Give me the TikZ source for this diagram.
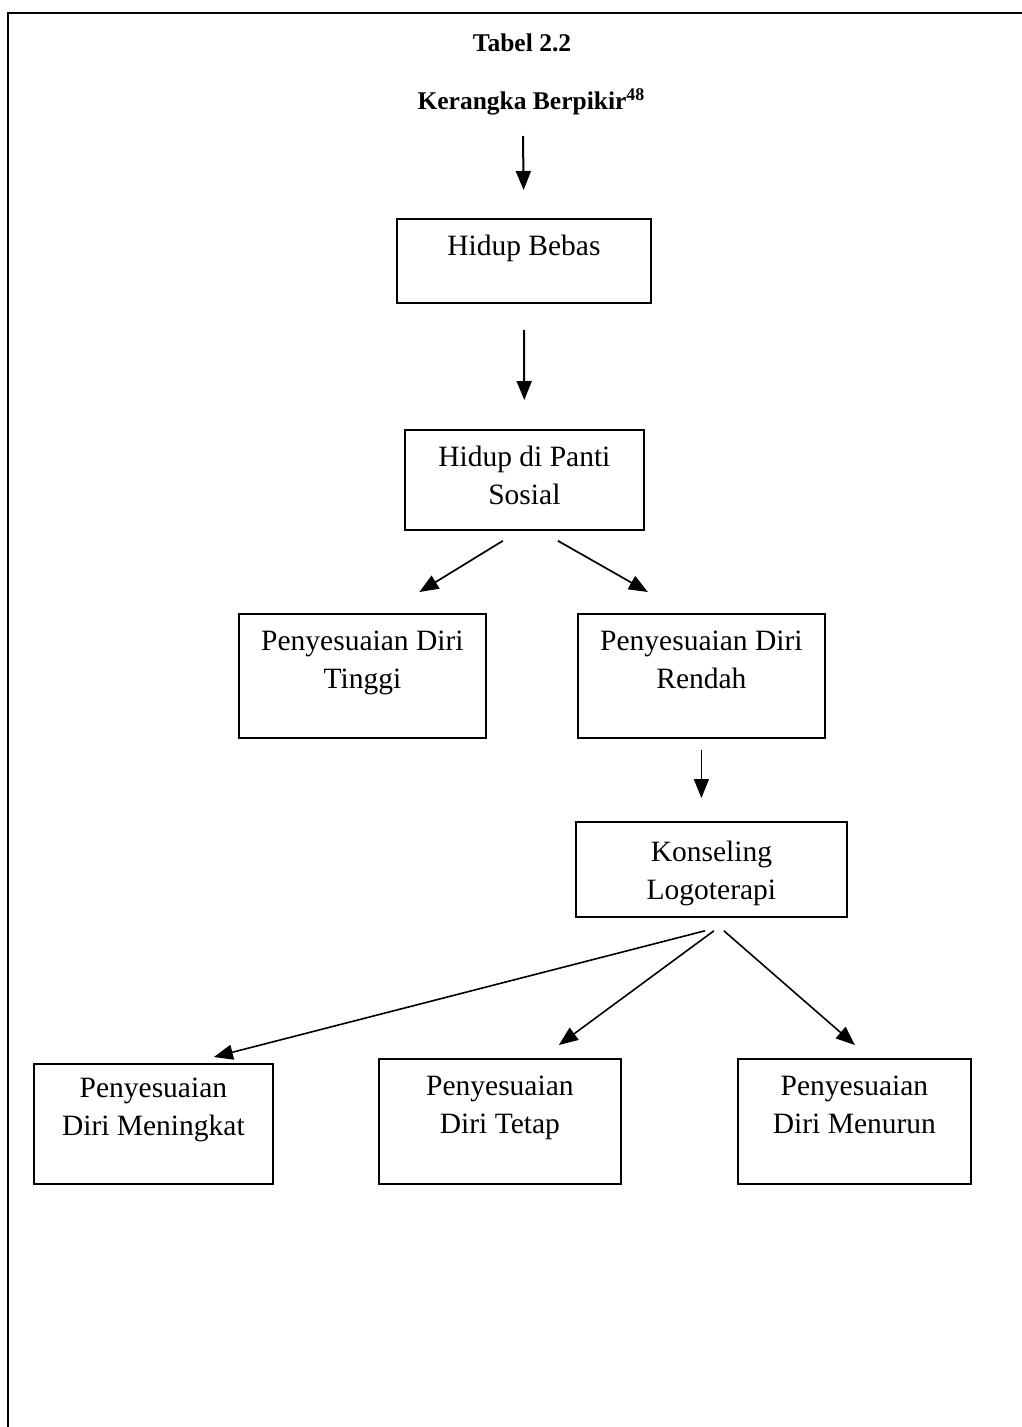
\documentclass[tikz,border=0pt]{standalone}
\usepackage{fontspec}
\setmainfont{Liberation Serif}
\usetikzlibrary{arrows.meta,calc}
\newcommand{\bcontent}[4]{\parbox[c][#2pt][t]{#1pt}{\centering\rule{0pt}{#3pt}#4}}
\begin{document}
\begin{tikzpicture}[x=1pt,y=-1pt,
  box/.style={draw, line width=1.8pt, inner sep=0pt, anchor=north west,
    font=\fontsize{29.5}{37.5}\selectfont},
  ttl/.style={font=\bfseries\fontsize{25.5}{28}\selectfont, inner sep=0pt},
  arr/.style={line width=1.7pt, -{Triangle[length=19pt,width=15pt]}},
]
\useasboundingbox (0,0) rectangle (1022,1427);
\draw[line width=2pt] (1022,12.5) -- (8,12.5) -- (8,1427);

\node[ttl] (tabel) at (522,43) {Tabel 2.2};
\node[ttl] (kerangka) at (522,102) {Kerangka Berpikir\rlap{\textsuperscript{48}}};

\node[box] (bebas) at (396,218) {\bcontent{254}{84}{37}{Hidup Bebas}};
\node[box] (panti) at (404,429) {\bcontent{239}{100}{37}{Hidup di Panti\\Sosial}};
\node[box] (tinggi) at (238,613) {\bcontent{247}{124}{37}{Penyesuaian Diri\\Tinggi}};
\node[box] (rendah) at (577,613) {\bcontent{247}{124}{37}{Penyesuaian Diri\\Rendah}};
\node[box] (konseling) at (575,821) {\bcontent{271}{95}{40}{Konseling\\Logoterapi}};
\node[box] (meningkat) at (33,1063) {\bcontent{239}{120}{34}{Penyesuaian\\Diri Meningkat}};
\node[box] (tetap) at (378,1058) {\bcontent{242}{125}{37}{Penyesuaian\\Diri Tetap}};
\node[box] (menurun) at (737,1058) {\bcontent{233}{125}{37}{Penyesuaian\\Diri Menurun}};

\draw[arr, line width=2pt, shorten >=28pt] ($(kerangka.center)+(1,34)$) -- (bebas.north);
\draw[arr, line width=2pt, shorten <=26pt, shorten >=29pt] (bebas.south) -- (panti.north);
\draw[arr] ($(panti.south)+(-21.5,10)$) -- ($(tinggi.north)+(57,-21)$);
\draw[arr] ($(panti.south)+(33.5,10)$) -- ($(rendah.north)+(-53.5,-21)$);
\draw[arr, shorten <=11pt, shorten >=23pt] (rendah.south) -- (rendah.south |- konseling.north);
\draw[arr, line width=1.6pt] ($(konseling.south)+(-6.5,13)$) -- ($(meningkat.north)+(60.5,-6)$);
\draw[arr, line width=1.6pt] ($(konseling.south)+(2.5,13)$) -- ($(tetap.north)+(59,-13)$);
\draw[arr, line width=1.6pt] ($(konseling.south)+(12.5,13)$) -- ($(menurun.north)+(0.5,-13)$);
\end{tikzpicture}
\end{document}
